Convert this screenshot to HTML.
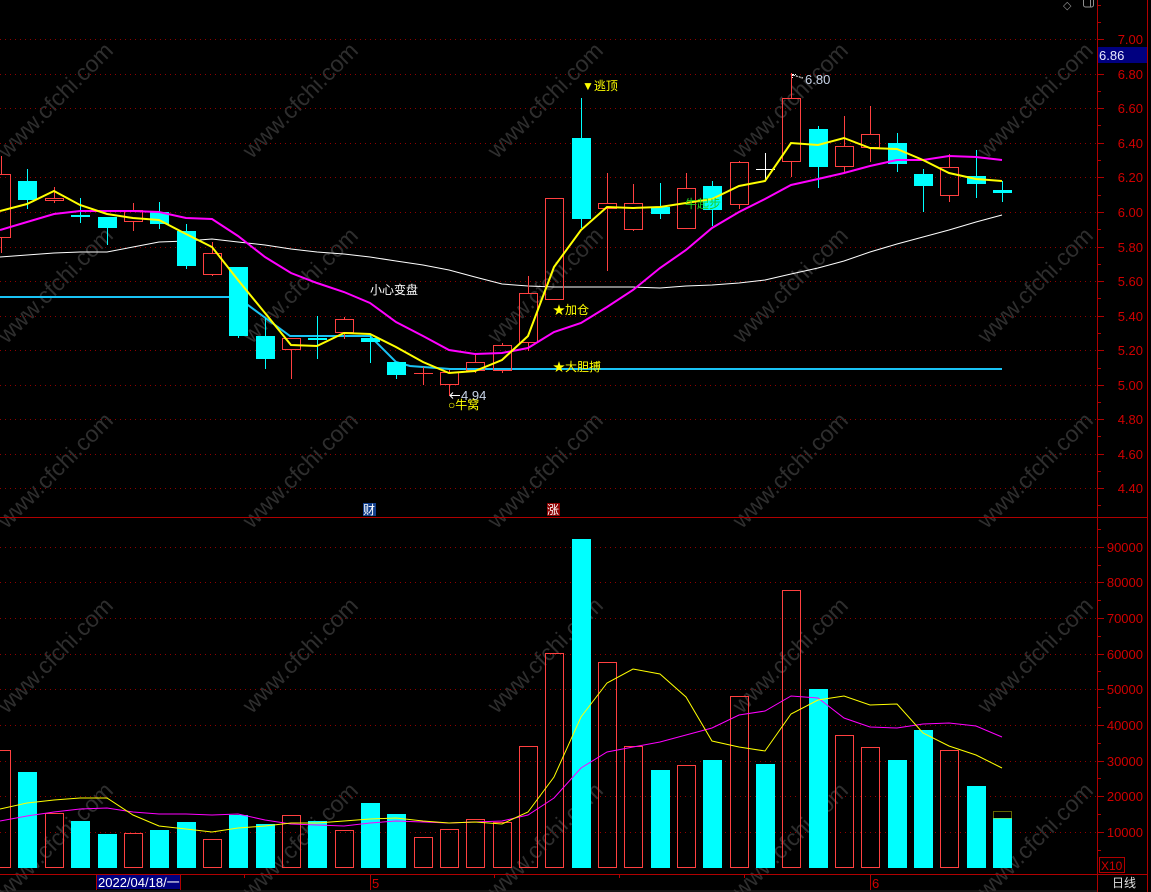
<!DOCTYPE html>
<html><head><meta charset="utf-8"><style>
html,body{margin:0;padding:0;background:#000;width:1151px;height:892px;overflow:hidden}
svg{display:block}
.wm{font-family:"Liberation Sans",sans-serif;font-size:23px;fill:#2e2e2e}
.ax{font-family:"Liberation Sans",sans-serif;font-size:13px;fill:#d00000}
.cj{font-family:"Liberation Sans","Noto Sans CJK SC",sans-serif;font-size:12px}
</style></head><body>
<svg width="1151" height="892" viewBox="0 0 1151 892" xmlns="http://www.w3.org/2000/svg">
<rect width="1151" height="892" fill="#000"/>
<!-- watermarks -->
<g class="wm" text-anchor="middle">
<text transform="translate(55,100) rotate(-45)" dy="8">www.cfchi.com</text>
<text transform="translate(300,100) rotate(-45)" dy="8">www.cfchi.com</text>
<text transform="translate(545,100) rotate(-45)" dy="8">www.cfchi.com</text>
<text transform="translate(790,100) rotate(-45)" dy="8">www.cfchi.com</text>
<text transform="translate(1035,100) rotate(-45)" dy="8">www.cfchi.com</text>
<text transform="translate(55,285) rotate(-45)" dy="8">www.cfchi.com</text>
<text transform="translate(300,285) rotate(-45)" dy="8">www.cfchi.com</text>
<text transform="translate(545,285) rotate(-45)" dy="8">www.cfchi.com</text>
<text transform="translate(790,285) rotate(-45)" dy="8">www.cfchi.com</text>
<text transform="translate(1035,285) rotate(-45)" dy="8">www.cfchi.com</text>
<text transform="translate(55,470) rotate(-45)" dy="8">www.cfchi.com</text>
<text transform="translate(300,470) rotate(-45)" dy="8">www.cfchi.com</text>
<text transform="translate(545,470) rotate(-45)" dy="8">www.cfchi.com</text>
<text transform="translate(790,470) rotate(-45)" dy="8">www.cfchi.com</text>
<text transform="translate(1035,470) rotate(-45)" dy="8">www.cfchi.com</text>
<text transform="translate(55,655) rotate(-45)" dy="8">www.cfchi.com</text>
<text transform="translate(300,655) rotate(-45)" dy="8">www.cfchi.com</text>
<text transform="translate(545,655) rotate(-45)" dy="8">www.cfchi.com</text>
<text transform="translate(790,655) rotate(-45)" dy="8">www.cfchi.com</text>
<text transform="translate(1035,655) rotate(-45)" dy="8">www.cfchi.com</text>
<text transform="translate(55,840) rotate(-45)" dy="8">www.cfchi.com</text>
<text transform="translate(300,840) rotate(-45)" dy="8">www.cfchi.com</text>
<text transform="translate(545,840) rotate(-45)" dy="8">www.cfchi.com</text>
<text transform="translate(790,840) rotate(-45)" dy="8">www.cfchi.com</text>
<text transform="translate(1035,840) rotate(-45)" dy="8">www.cfchi.com</text>
</g>
<!-- grid -->
<g stroke="#900000" stroke-width="1" stroke-dasharray="1,4">
<line x1="0" x2="1096" y1="39.5" y2="39.5"/><line x1="0" x2="1096" y1="74.5" y2="74.5"/>
<line x1="0" x2="1096" y1="108.5" y2="108.5"/><line x1="0" x2="1096" y1="143.5" y2="143.5"/>
<line x1="0" x2="1096" y1="177.5" y2="177.5"/><line x1="0" x2="1096" y1="212.5" y2="212.5"/>
<line x1="0" x2="1096" y1="247.5" y2="247.5"/><line x1="0" x2="1096" y1="281.5" y2="281.5"/>
<line x1="0" x2="1096" y1="316.5" y2="316.5"/><line x1="0" x2="1096" y1="350.5" y2="350.5"/>
<line x1="0" x2="1096" y1="385.5" y2="385.5"/><line x1="0" x2="1096" y1="419.5" y2="419.5"/>
<line x1="0" x2="1096" y1="454.5" y2="454.5"/><line x1="0" x2="1096" y1="488.5" y2="488.5"/>
<line x1="0" x2="1096" y1="547.5" y2="547.5"/><line x1="0" x2="1096" y1="582.5" y2="582.5"/>
<line x1="0" x2="1096" y1="618.5" y2="618.5"/><line x1="0" x2="1096" y1="654.5" y2="654.5"/>
<line x1="0" x2="1096" y1="689.5" y2="689.5"/><line x1="0" x2="1096" y1="725.5" y2="725.5"/>
<line x1="0" x2="1096" y1="761.5" y2="761.5"/><line x1="0" x2="1096" y1="796.5" y2="796.5"/>
<line x1="0" x2="1096" y1="832.5" y2="832.5"/>
</g>
<!-- frame -->
<g stroke="#b00000" stroke-width="1" fill="none">
<line x1="1097.5" y1="0" x2="1097.5" y2="892"/>
<line x1="1147.5" y1="0" x2="1147.5" y2="892"/>
<line x1="0" y1="517.5" x2="1148" y2="517.5"/>
<line x1="0" y1="874.5" x2="1148" y2="874.5"/>
</g>
<!-- axis ticks -->
<g stroke="#b00000" stroke-width="1">
<path d="M1098 39.5h6M1098 74.5h6M1098 108.5h6M1098 143.5h6M1098 177.5h6M1098 212.5h6M1098 247.5h6M1098 281.5h6M1098 316.5h6M1098 350.5h6M1098 385.5h6M1098 419.5h6M1098 454.5h6M1098 488.5h6"/>
<path d="M1098 5.5h3M1098 22.5h3M1098 56.5h3M1098 91.5h3M1098 125.5h3M1098 160.5h3M1098 195.5h3M1098 229.5h3M1098 264.5h3M1098 298.5h3M1098 333.5h3M1098 368.5h3M1098 402.5h3M1098 436.5h3M1098 471.5h3M1098 505.5h3"/>
<path d="M1098 547.5h6M1098 582.5h6M1098 618.5h6M1098 654.5h6M1098 689.5h6M1098 725.5h6M1098 761.5h6M1098 796.5h6M1098 832.5h6"/>
<path d="M1098 529.5h3M1098 565.5h3M1098 600.5h3M1098 636.5h3M1098 671.5h3M1098 707.5h3M1098 743.5h3M1098 778.5h3M1098 814.5h3M1098 850.5h3"/>
<path d="M244.5 875v3M494.5 875v3M619.5 875v3M744.5 875v3"/>
<path d="M370.5 875v15M870.5 875v15"/>
</g>
<!-- axis labels -->
<g class="ax" text-anchor="end">
<text x="1143" y="44">7.00</text><text x="1143" y="79">6.80</text><text x="1143" y="113">6.60</text>
<text x="1143" y="148">6.40</text><text x="1143" y="182">6.20</text><text x="1143" y="217">6.00</text>
<text x="1143" y="252">5.80</text><text x="1143" y="286">5.60</text><text x="1143" y="321">5.40</text>
<text x="1143" y="355">5.20</text><text x="1143" y="390">5.00</text><text x="1143" y="424">4.80</text>
<text x="1143" y="459">4.60</text><text x="1143" y="493">4.40</text>
<text x="1143" y="552">90000</text><text x="1143" y="587">80000</text><text x="1143" y="623">70000</text>
<text x="1143" y="659">60000</text><text x="1143" y="694">50000</text><text x="1143" y="730">40000</text>
<text x="1143" y="766">30000</text><text x="1143" y="801">20000</text><text x="1143" y="837">10000</text>
</g>
<rect x="1098" y="47" width="49" height="16" fill="#000080"/>
<text x="1099" y="60" font-family="Liberation Sans,sans-serif" font-size="13" fill="#e8e8ff">6.86</text>
<rect x="1099.5" y="857.5" width="25" height="15" fill="none" stroke="#b00000"/>
<text x="1101" y="870" font-family="Liberation Sans,sans-serif" font-size="12" fill="#d00000">X10</text>
<text x="1112" y="887" class="cj" fill="#e0e0e0">日线</text>
<!-- top icons -->
<text x="1063" y="9" font-family="DejaVu Sans,sans-serif" font-size="11" fill="#909090">◇</text>
<rect x="1083.5" y="-2" width="10" height="9" rx="2" fill="none" stroke="#909090"/>
<line x1="1090.5" y1="0" x2="1090.5" y2="7" stroke="#909090"/>
<!-- date axis -->
<rect x="97" y="875" width="83" height="14" fill="#000080"/>
<line x1="96.5" y1="875" x2="96.5" y2="890" stroke="#b00000"/>
<line x1="180.5" y1="875" x2="180.5" y2="890" stroke="#b00000"/>
<text x="98" y="887" font-family="Liberation Sans,'Noto Sans CJK SC',sans-serif" font-size="13" fill="#ffffff">2022/04/18/一</text>
<text x="372" y="888" class="ax">5</text>
<text x="872" y="888" class="ax">6</text>
<line x1="0" y1="891" x2="1097" y2="891" stroke="#2a2a2a"/>

<!-- support cyan line -->
<polyline fill="none" stroke="#19c3f5" stroke-width="2" points="0,297 237,297 290,336 370,336 396,362 410,366 450,369 1002,369"/>
<!-- white long MA -->
<polyline fill="none" stroke="#ffffff" stroke-width="1" points="0,257 27,255 54,253 80,252 107,252 133,247 159,242 186,241 212,239 238,242 265,245 291,249 317,252 344,254 370,257 396,261 423,265 449,270 475,277 502,284 528,286 554,287 581,287 607,287 633,287 660,288 686,286 712,285 739,283 765,280 791,274 818,268 844,261 870,252 897,244 923,237 949,230 976,222 1002,215"/>

<!-- red hollow candles -->
<g stroke="#ff4040" stroke-width="1" fill="none">
<rect x="-7.5" y="174.5" width="18" height="63"/><path d="M1.5 156V174M1.5 238V253"/>
<rect x="45.5" y="198.5" width="18" height="2"/><path d="M54.5 187V198M54.5 201V203"/>
<rect x="124.5" y="210.5" width="18" height="11"/><path d="M133.5 203V210M133.5 222V231"/>
<rect x="203.5" y="253.5" width="18" height="21"/><path d="M212.5 242V253M212.5 275V276"/>
<rect x="282.5" y="338.5" width="18" height="11"/><path d="M291.5 350V379"/>
<rect x="335.5" y="319.5" width="18" height="13"/><path d="M344.5 317V319M344.5 333V339"/>
<rect x="440.5" y="372.5" width="18" height="12"/><path d="M449.5 370V372M449.5 385V396"/>
<rect x="466.5" y="362.5" width="18" height="8"/><path d="M475.5 355V362M475.5 371V373"/>
<rect x="493.5" y="345.5" width="18" height="25"/><path d="M502.5 343V345M502.5 371V373"/>
<rect x="519.5" y="293.5" width="18" height="49"/><path d="M528.5 276V293M528.5 343V351"/>
<rect x="545.5" y="198.5" width="18" height="101"/>
<rect x="598.5" y="203.5" width="18" height="5"/><path d="M607.5 173V203M607.5 209V271"/>
<rect x="624.5" y="203.5" width="18" height="26"/><path d="M633.5 184V203M633.5 230V231"/>
<rect x="677.5" y="188.5" width="18" height="40"/><path d="M686.5 173V188"/>
<rect x="730.5" y="162.5" width="18" height="42"/><path d="M739.5 161V162M739.5 205V209"/>
<rect x="782.5" y="98.5" width="18" height="63"/><path d="M791.5 73V98M791.5 162V177"/>
<rect x="835.5" y="146.5" width="18" height="20"/><path d="M844.5 116V146M844.5 167V173"/>
<rect x="861.5" y="134.5" width="18" height="13"/><path d="M870.5 106V134M870.5 148V162"/>
<rect x="940.5" y="167.5" width="18" height="28"/><path d="M949.5 154V167M949.5 196V202"/>
<path d="M414 373.5H433M423.5 367V385"/>
</g>
<!-- cyan candles -->
<g fill="#00ffff" stroke="none">
<rect x="27" y="169" width="1" height="40"/><rect x="18" y="181" width="19" height="19"/>
<rect x="80" y="198" width="1" height="25"/><rect x="71" y="215" width="19" height="2"/>
<rect x="107" y="217" width="1" height="28"/><rect x="98" y="217" width="19" height="11"/>
<rect x="159" y="202" width="1" height="27"/><rect x="150" y="212" width="19" height="12"/>
<rect x="186" y="224" width="1" height="45"/><rect x="177" y="231" width="19" height="35"/>
<rect x="238" y="267" width="1" height="71"/><rect x="229" y="267" width="19" height="69"/>
<rect x="265" y="318" width="1" height="51"/><rect x="256" y="336" width="19" height="23"/>
<rect x="317" y="316" width="1" height="43"/><rect x="308" y="338" width="19" height="2"/>
<rect x="370" y="334" width="1" height="29"/><rect x="361" y="338" width="19" height="4"/>
<rect x="396" y="362" width="1" height="17"/><rect x="387" y="362" width="19" height="13"/>
<rect x="581" y="98" width="1" height="130"/><rect x="572" y="138" width="19" height="81"/>
<rect x="660" y="183" width="1" height="36"/><rect x="651" y="207" width="19" height="7"/>
<rect x="712" y="181" width="1" height="45"/><rect x="703" y="186" width="19" height="24"/>
<rect x="818" y="126" width="1" height="62"/><rect x="809" y="129" width="19" height="38"/>
<rect x="897" y="133" width="1" height="39"/><rect x="888" y="143" width="19" height="21"/>
<rect x="923" y="169" width="1" height="43"/><rect x="914" y="174" width="19" height="12"/>
<rect x="976" y="150" width="1" height="48"/><rect x="967" y="176" width="19" height="8"/>
<rect x="1002" y="181" width="1" height="21"/><rect x="993" y="190" width="19" height="3"/>
</g>
<path d="M756 169.5H775M765.5 153V180" stroke="#ffffff" stroke-width="1"/>

<!-- price MAs -->
<polyline fill="none" stroke="#ff00ff" stroke-width="2" points="0,230 27,222 54,214 80,211 107,211 133,211 159,212 186,218 212,219 238,236 265,257 291,273 317,283 344,292 370,303 396,322 423,336 449,350 475,354 502,353 528,348 554,332 581,323 607,307 633,290 660,268 686,250 712,228 739,212 765,199 791,185 818,179 844,173 870,166 897,160 923,160 949,156 976,157 1002,160"/>
<polyline fill="none" stroke="#ffff00" stroke-width="2" points="0,211 27,204 54,191 80,205 107,214 133,218 159,220 186,234 212,247 238,280 265,313 291,345 317,346 344,333 370,334 396,347 423,362 449,373 475,371 502,360 528,336 554,267 581,230 607,207 633,208 660,207 686,203 712,199 739,186 765,181 791,143 818,145 844,138 870,148 897,149 923,160 949,173 976,179 1002,181"/>

<!-- annotations -->
<text x="370" y="294" class="cj" fill="#ffffff">小心变盘</text>
<text x="582" y="90" class="cj" fill="#ffff00">▼逃顶</text>
<text x="553" y="314" class="cj" fill="#ffff00">★加仓</text>
<text x="553" y="371" class="cj" fill="#ffff00">★大胆搏</text>
<text x="685" y="208" class="cj" fill="#20d020">牛起步</text>
<path d="M450 395.5H460M450 395.5l3-3M450 395.5l3 3" stroke="#ffffff" stroke-width="1" fill="none"/>
<text x="461" y="400" font-family="Liberation Sans,sans-serif" font-size="13" fill="#c8d4e8">4.94</text>
<text x="448" y="409" class="cj" fill="#ffff00">○牛窝</text>
<path d="M792 74.5h4M792.5 74v4M793 75l10 3" stroke="#ffffff" stroke-width="1" fill="none" stroke-dasharray="2,1"/>
<text x="805" y="84" font-family="Liberation Sans,sans-serif" font-size="13" fill="#c8d4e8">6.80</text>
<rect x="363" y="503" width="13" height="13" fill="#123f8c"/>
<text x="363" y="514" class="cj" fill="#ffffff">财</text>
<rect x="547" y="503" width="13" height="13" fill="#8b0000"/>
<text x="547" y="514" class="cj" fill="#ffffff">涨</text>

<!-- volume bars red -->
<g stroke="#ff4040" stroke-width="1" fill="none">
<rect x="-7.5" y="750.5" width="18" height="117"/>
<rect x="45.5" y="813.5" width="18" height="54"/>
<rect x="124.5" y="833.5" width="18" height="34"/>
<rect x="203.5" y="839.5" width="18" height="28"/>
<rect x="282.5" y="815.5" width="18" height="52"/>
<rect x="335.5" y="830.5" width="18" height="37"/>
<rect x="414.5" y="837.5" width="18" height="30"/>
<rect x="440.5" y="829.5" width="18" height="38"/>
<rect x="466.5" y="819.5" width="18" height="48"/>
<rect x="493.5" y="822.5" width="18" height="45"/>
<rect x="519.5" y="746.5" width="18" height="121"/>
<rect x="545.5" y="653.5" width="18" height="214"/>
<rect x="598.5" y="662.5" width="18" height="205"/>
<rect x="624.5" y="746.5" width="18" height="121"/>
<rect x="677.5" y="765.5" width="18" height="102"/>
<rect x="730.5" y="696.5" width="18" height="171"/>
<rect x="782.5" y="590.5" width="18" height="277"/>
<rect x="835.5" y="735.5" width="18" height="132"/>
<rect x="861.5" y="747.5" width="18" height="120"/>
<rect x="940.5" y="750.5" width="18" height="117"/>
</g>
<g fill="#00ffff">
<rect x="18" y="772" width="19" height="96"/>
<rect x="71" y="821" width="19" height="47"/>
<rect x="98" y="834" width="19" height="34"/>
<rect x="150" y="830" width="19" height="38"/>
<rect x="177" y="822" width="19" height="46"/>
<rect x="229" y="815" width="19" height="53"/>
<rect x="256" y="824" width="19" height="44"/>
<rect x="308" y="821" width="19" height="47"/>
<rect x="361" y="803" width="19" height="65"/>
<rect x="387" y="814" width="19" height="54"/>
<rect x="572" y="539" width="19" height="329"/>
<rect x="651" y="770" width="19" height="98"/>
<rect x="703" y="760" width="19" height="108"/>
<rect x="756" y="764" width="19" height="104"/>
<rect x="809" y="689" width="19" height="179"/>
<rect x="888" y="760" width="19" height="108"/>
<rect x="914" y="730" width="19" height="138"/>
<rect x="967" y="786" width="19" height="82"/>
<rect x="993" y="818" width="19" height="50"/>
</g>
<rect x="993.5" y="811.5" width="18" height="7" fill="none" stroke="#c8c800" stroke-dasharray="1,1"/>
<!-- volume MAs -->
<polyline fill="none" stroke="#ff00ff" stroke-width="1" points="0,821 27,816 54,812 80,809 107,808 133,812 159,814 186,814 212,815 238,814 265,820 291,824 317,825 344,826 370,823 396,821 423,822 449,823 475,822 502,821 528,815 554,798 581,768 607,752 633,747 660,742 686,735 712,728 739,715 765,711 791,696 818,698 844,718 870,727 897,728 923,724 949,723 976,726 1002,737"/>
<polyline fill="none" stroke="#ffff00" stroke-width="1" points="0,809 27,803 54,800 80,798 107,798 133,815 159,826 186,829 212,832 238,828 265,826 291,823 317,823 344,821 370,819 396,818 423,821 449,823 475,822 502,824 528,812 554,777 581,717 607,683 633,669 660,674 686,697 712,741 739,747 765,751 791,714 818,700 844,696 870,705 897,704 923,733 949,746 976,755 1002,768"/>
</svg>
</body></html>
